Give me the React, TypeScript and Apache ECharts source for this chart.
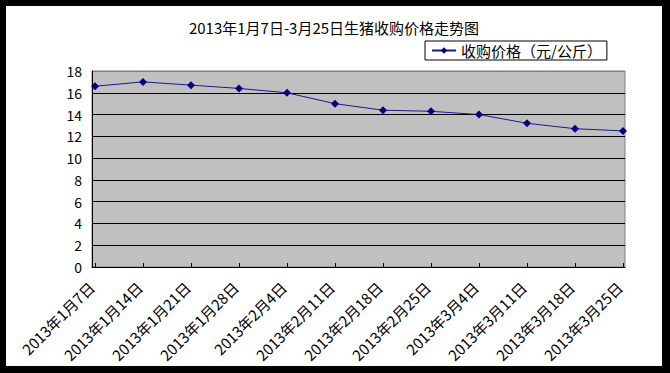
import React, { useEffect, useRef } from "react";
import * as echarts from "echarts";

const categories = [
  "2013年1月7日",
  "2013年1月14日",
  "2013年1月21日",
  "2013年1月28日",
  "2013年2月4日",
  "2013年2月11日",
  "2013年2月18日",
  "2013年2月25日",
  "2013年3月4日",
  "2013年3月11日",
  "2013年3月18日",
  "2013年3月25日",
];
const prices = [16.6, 17.0, 16.7, 16.4, 16.0, 15.0, 14.4, 14.3, 14.0, 13.2, 12.7, 12.5];
const seriesName = "收购价格（元/公斤）";
const titleText = "2013年1月7日-3月25日生猪收购价格走势图";

export default function App() {
  const ref = useRef<HTMLDivElement>(null);
  useEffect(() => {
    if (!ref.current) return;
    const chart = echarts.init(ref.current, undefined, { renderer: "svg" });
    const font = "'Noto Sans CJK SC', sans-serif";
    chart.setOption({
      animation: false,
      backgroundColor: "#ffffff",
      textStyle: { fontFamily: font, color: "#000" },
      title: {
        text: titleText,
        left: "center",
        top: 9,
        textStyle: { fontSize: 15, fontWeight: "normal", color: "#000", fontFamily: font },
      },
      legend: {
        data: [seriesName],
        left: 419,
        top: 35,
        orient: "horizontal",
        borderColor: "#000",
        borderWidth: 1,
        borderRadius: 0,
        padding: [2, 5, 2, 6],
        itemWidth: 24,
        itemHeight: 8,
        itemGap: 5,
        textStyle: { fontSize: 15, color: "#000", fontFamily: font, lineHeight: 15 },
      },
      grid: [
        {
          left: 86,
          top: 65,
          width: 533,
          height: 196,
          show: true,
          backgroundColor: "#C0C0C0",
          borderColor: "#808080",
          borderWidth: 1,
          containLabel: false,
        },
        {
          left: 89,
          top: 65,
          width: 528,
          height: 196,
          containLabel: false,
        },
      ],
      xAxis: [
        {
          gridIndex: 0,
          type: "value",
          min: 0,
          max: 1,
          axisLine: { show: true, lineStyle: { color: "#000", width: 1 } },
          axisTick: { show: false },
          axisLabel: { show: false },
          splitLine: { show: false },
        },
        {
          gridIndex: 1,
          type: "category",
          boundaryGap: false,
          data: categories,
          axisLine: { show: false },
          axisTick: { show: true, inside: true, length: 4, lineStyle: { color: "#000" } },
          axisLabel: {
            rotate: 45,
            interval: 0,
            fontSize: 15,
            fontWeight: "normal",
            color: "#000",
            margin: 14,
            padding: [0, 5, 0, 0],
            fontFamily: font,
          },
          splitLine: { show: false },
        },
      ],
      yAxis: [
        {
          gridIndex: 0,
          type: "value",
          min: 0,
          max: 18,
          interval: 2,
          axisLine: { show: true, lineStyle: { color: "#000", width: 1 } },
          axisTick: { show: false },
          axisLabel: { fontSize: 14, color: "#000", margin: 10, fontFamily: font },
          splitLine: {
            show: true,
            lineStyle: {
              color: ["#000", "#000", "#000", "#000", "#000", "#000", "#000", "#000", "#000", "#808080"],
              width: 1,
            },
          },
        },
        {
          gridIndex: 1,
          type: "value",
          min: 0,
          max: 18,
          show: false,
        },
      ],
      series: [
        {
          name: seriesName,
          type: "line",
          xAxisIndex: 1,
          yAxisIndex: 1,
          data: prices,
          symbol: "diamond",
          symbolSize: 8,
          lineStyle: { color: "#1a1a8c", width: 1 },
          itemStyle: { color: "#000080" },
        },
      ],
    });
    return () => chart.dispose();
  }, []);
  return (
    <div style={{ position: "absolute", left: 0, top: 0, width: 670, height: 373, background: "#000" }}>
      <div
        ref={ref}
        style={{ position: "absolute", left: 6, top: 6, width: 656, height: 360, background: "#fff" }}
      />
    </div>
  );
}
